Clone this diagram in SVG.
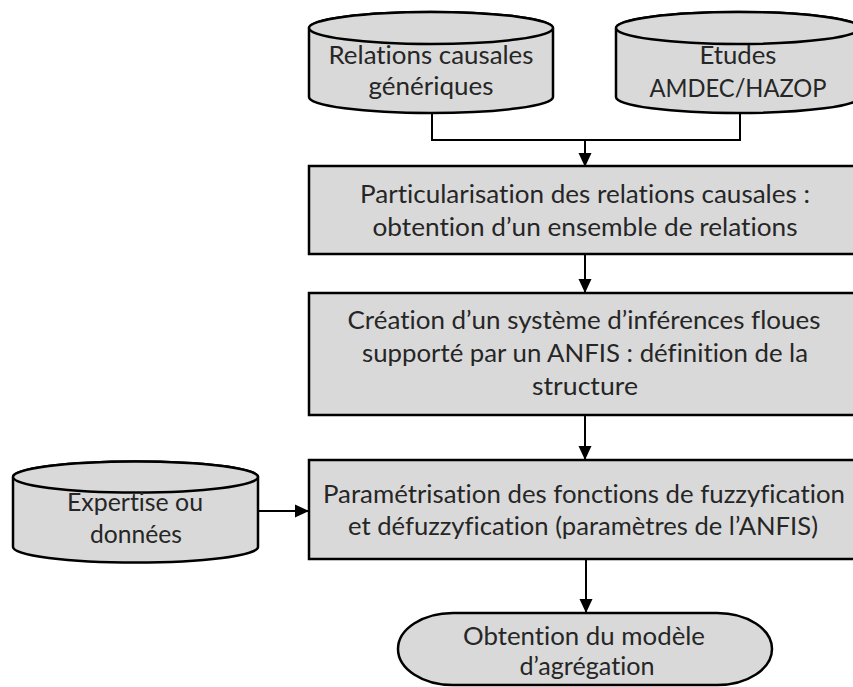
<svg xmlns="http://www.w3.org/2000/svg" width="853" height="687" viewBox="0 0 853 687">
<defs>
<style>
.shape{fill:#d9d9d9;stroke:#000;stroke-width:2.5}
.line{fill:none;stroke:#000;stroke-width:2}
text{font-family:Lato,"Liberation Sans",sans-serif;font-size:25px;fill:#262626;text-anchor:middle;font-variant-ligatures:none}
</style>
<marker id="arr" markerUnits="userSpaceOnUse" markerWidth="14" markerHeight="14" viewBox="0 0 14 14" refX="13" refY="7" orient="auto">
<path d="M0,0.5 L14,7 L0,13.5 Z" fill="#000"/>
</marker>
</defs>
<rect width="853" height="687" fill="#fff"/>
<g id="connectors">
<polyline class="line" points="432,113 432,140 740,140 740,113"/>
<line class="line" x1="585" y1="140" x2="585" y2="166" marker-end="url(#arr)"/>
<line class="line" x1="585" y1="254" x2="585" y2="292" marker-end="url(#arr)"/>
<line class="line" x1="585" y1="415" x2="585" y2="459" marker-end="url(#arr)"/>
<line class="line" x1="586" y1="559" x2="586" y2="612" marker-end="url(#arr)"/>
<line class="line" x1="258" y1="511" x2="308" y2="511" marker-end="url(#arr)"/>
</g>
<g id="cyl-relations">
<path class="shape" d="M309,28 L309,97 A122,16 0 0 0 553,97 L553,28 A122,16 0 0 0 309,28 Z"/>
<ellipse class="shape" cx="431" cy="28" rx="122" ry="16"/>
<text x="431" y="64" textLength="205" lengthAdjust="spacingAndGlyphs">Relations causales</text>
<text x="431" y="95" textLength="125" lengthAdjust="spacingAndGlyphs">génériques</text>
</g>
<g id="cyl-etudes">
<path class="shape" d="M616,28 L616,97 A122,16 0 0 0 860,97 L860,28 A122,16 0 0 0 616,28 Z"/>
<ellipse class="shape" cx="738" cy="28" rx="122" ry="16"/>
<text x="738" y="64" textLength="77" lengthAdjust="spacingAndGlyphs">Etudes</text>
<text x="738" y="97" textLength="177" lengthAdjust="spacingAndGlyphs">AMDEC/HAZOP</text>
</g>
<g id="box-particularisation">
<rect class="shape" x="309" y="166" width="560" height="88"/>
<text x="585" y="203" textLength="450" lengthAdjust="spacingAndGlyphs">Particularisation des relations causales :</text>
<text x="585" y="236" textLength="425" lengthAdjust="spacingAndGlyphs">obtention d’un ensemble de relations</text>
</g>
<g id="box-creation">
<rect class="shape" x="309" y="293" width="560" height="122"/>
<text x="584" y="329" textLength="473" lengthAdjust="spacingAndGlyphs">Création d’un système d’inférences floues</text>
<text x="585" y="362" textLength="446" lengthAdjust="spacingAndGlyphs">supporté par un ANFIS : définition de la</text>
<text x="585" y="395" textLength="106" lengthAdjust="spacingAndGlyphs">structure</text>
</g>
<g id="box-parametrisation">
<rect class="shape" x="309" y="460" width="560" height="99"/>
<text x="584" y="503" textLength="522" lengthAdjust="spacingAndGlyphs">Paramétrisation des fonctions de fuzzyfication</text>
<text x="583" y="535" textLength="470" lengthAdjust="spacingAndGlyphs">et défuzzyfication (paramètres de l’ANFIS)</text>
</g>
<g id="cyl-expertise">
<path class="shape" d="M13,477 L13,547 A122.5,15.5 0 0 0 258,547 L258,477 A122.5,15.5 0 0 0 13,477 Z"/>
<ellipse class="shape" cx="135.5" cy="477" rx="122.5" ry="15.5"/>
<text x="135" y="511" textLength="136" lengthAdjust="spacingAndGlyphs">Expertise ou</text>
<text x="136" y="543" textLength="92" lengthAdjust="spacingAndGlyphs">données</text>
</g>
<g id="term-obtention">
<rect class="shape" x="398" y="613" width="374" height="72" rx="55" ry="36"/>
<text x="584" y="645" textLength="242" lengthAdjust="spacingAndGlyphs">Obtention du modèle</text>
<text x="587" y="675" textLength="135" lengthAdjust="spacingAndGlyphs">d’agrégation</text>
</g>
</svg>
